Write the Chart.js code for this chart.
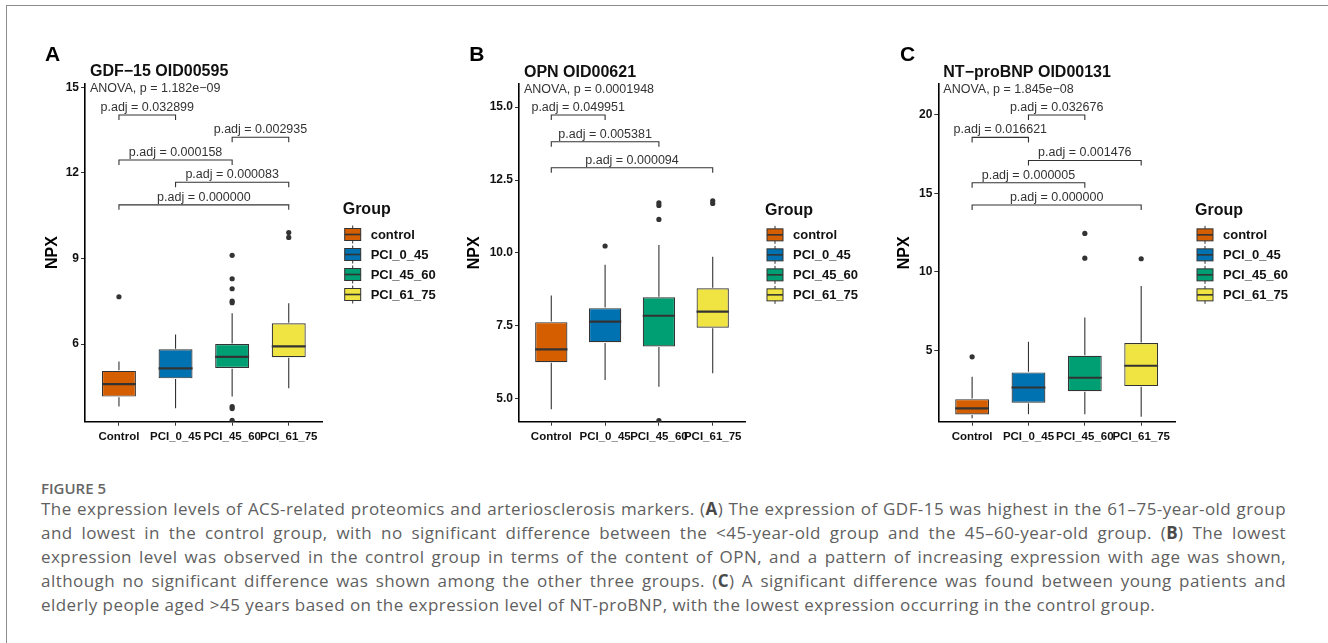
<!DOCTYPE html>
<html>
<head>
<meta charset="utf-8">
<script src="https://cdn.jsdelivr.net/npm/chart.js@4.4.1/dist/chart.umd.min.js"></script>
<style>
  body { margin: 0; background: #fff; width: 1328px; height: 643px; overflow: hidden; position: relative; }
  .frame { position: absolute; left: 6px; top: 5px; width: 1340px; height: 660px; border-left: 1px solid #8c8c8c; border-top: 1px solid #8c8c8c; }
  canvas { position: absolute; }
  #caption { position: absolute; left: 41px; top: 479px; width: 1245px; font-family: 'Open Sans', sans-serif; color: #5f5f5f; }
  #caption .fig { font-size: 15px; font-weight: 600; line-height: 18px; color: #666; }
  #caption .ln { font-size: 17px; line-height: 24px; letter-spacing: 0.45px; white-space: nowrap; text-align: justify; text-align-last: justify; }
  #caption .ln.last { text-align-last: left; }
  #caption b { font-weight: 700; color: #4a4a4a; }
</style>
</head>
<body>
<div class="frame"></div>
<canvas id="chartA" width="410" height="420" style="left:30px; top:30px;"></canvas>
<canvas id="chartB" width="430" height="420" style="left:440px; top:30px;"></canvas>
<canvas id="chartC" width="440" height="420" style="left:880px; top:30px;"></canvas>

<div id="caption">
  <div class="fig">FIGURE 5</div>
  <div class="ln">The expression levels of ACS-related proteomics and arteriosclerosis markers. (<b>A</b>) The expression of GDF-15 was highest in the 61–75-year-old group</div>
  <div class="ln">and lowest in the control group, with no significant difference between the &lt;45-year-old group and the 45–60-year-old group. (<b>B</b>) The lowest</div>
  <div class="ln">expression level was observed in the control group in terms of the content of OPN, and a pattern of increasing expression with age was shown,</div>
  <div class="ln">although no significant difference was shown among the other three groups. (<b>C</b>) A significant difference was found between young patients and</div>
  <div class="ln last">elderly people aged &gt;45 years based on the expression level of NT-proBNP, with the lowest expression occurring in the control group.</div>
</div>

<script>
const groups = ['Control', 'PCI_0_45', 'PCI_45_60', 'PCI_61_75'];
const legendNames = ['control', 'PCI_0_45', 'PCI_45_60', 'PCI_61_75'];

// A: GDF-15
const gdfLow = [3.81, 3.75, 4.16, 4.45];
const gdfQ1 = [4.16, 4.80, 5.16, 5.54];
const gdfMedian = [4.60, 5.15, 5.55, 5.92];
const gdfQ3 = [5.06, 5.82, 6.00, 6.73];
const gdfHigh = [5.39, 6.34, 7.08, 7.43];
const gdfOutliers = [[7.66], [], [9.11, 8.29, 7.94, 7.51, 7.45, 3.81, 3.74, 3.33], [9.91, 9.74]];
const gdfTicks = [6, 9, 12, 15];
const gdfRange = [3.28, 15.14];
const gdfPairs = [[1, 2], [3, 4], [1, 3], [2, 4], [1, 4]];
const gdfPairY = [14.03, 13.25, 12.45, 11.67, 10.88];
const gdfPadj = ['0.032899', '0.002935', '0.000158', '0.000083', '0.000000'];

// B: OPN
const opnLow = [4.65, 5.65, 5.42, 5.88];
const opnQ1 = [6.26, 6.94, 6.80, 7.44];
const opnMedian = [6.70, 7.65, 7.85, 7.99];
const opnQ3 = [7.63, 8.11, 8.48, 8.79];
const opnHigh = [8.54, 9.60, 10.27, 9.87];
const opnOutliers = [[], [10.24], [11.72, 11.63, 11.15, 4.26], [11.79, 11.70]];
const opnTicks = [5, 7.5, 10, 12.5, 15];
const opnRange = [4.22, 15.79];
const opnPairs = [[1, 2], [1, 3], [1, 4]];
const opnPairY = [14.73, 13.81, 12.92];
const opnPadj = ['0.049951', '0.005381', '0.000094'];

// C: NT-proBNP
const bnpLow = [0.72, 0.98, 0.98, 0.81];
const bnpQ1 = [0.96, 1.70, 2.44, 2.76];
const bnpMedian = [1.34, 2.67, 3.29, 4.05];
const bnpQ3 = [1.93, 3.63, 4.68, 5.49];
const bnpHigh = [3.35, 5.57, 7.12, 9.11];
const bnpOutliers = [[4.62], [], [12.45, 10.88], [10.84]];
const bnpTicks = [5, 10, 15, 20];
const bnpRange = [0.5, 21.93];
const bnpPairs = [[2, 3], [1, 2], [2, 4], [1, 3], [1, 4]];
const bnpPairY = [19.96, 18.54, 17.08, 15.66, 14.25];
const bnpPadj = ['0.032676', '0.016621', '0.001476', '0.000005', '0.000000'];

const colors = ['#D55E00', '#0072B2', '#009E73', '#F0E442'];
const ink = '#333333';
const family = "'Liberation Sans', Arial, sans-serif";

const panels = [
    {
        id: 'chartA', letter: 'A', title: 'GDF−15 OID00595', anova: 'ANOVA, p = 1.182e−09',
        low: gdfLow, q1: gdfQ1, median: gdfMedian, q3: gdfQ3, high: gdfHigh, outliers: gdfOutliers,
        ticks: gdfTicks, range: gdfRange, pairs: gdfPairs, pairY: gdfPairY, padj: gdfPadj, decimals: 0,
        box: { yWidth: 55, top: 53.3, right: 117.3, xHeight: 28.3, titlePad: 13.4, letterX: 15 },
    },
    {
        id: 'chartB', letter: 'B', title: 'OPN OID00621', anova: 'ANOVA, p = 0.0001948',
        low: opnLow, q1: opnQ1, median: opnMedian, q3: opnQ3, high: opnHigh, outliers: opnOutliers,
        ticks: opnTicks, range: opnRange, pairs: opnPairs, pairY: opnPairY, padj: opnPadj, decimals: 1,
        box: { yWidth: 79, top: 54, right: 125, xHeight: 28.3, titlePad: 25.4, letterX: 29.3 },
    },
    {
        id: 'chartC', letter: 'C', title: 'NT−proBNP OID00131', anova: 'ANOVA, p = 1.845e−08',
        low: bnpLow, q1: bnpQ1, median: bnpMedian, q3: bnpQ3, high: bnpHigh, outliers: bnpOutliers,
        ticks: bnpTicks, range: bnpRange, pairs: bnpPairs, pairY: bnpPairY, padj: bnpPadj, decimals: 0,
        box: { yWidth: 58.3, top: 54, right: 145, xHeight: 28.3, titlePad: 15.4, letterX: 20 },
    },
];

function strokeLine(ctx, x1, y1, x2, y2) {
    ctx.beginPath();
    ctx.moveTo(x1, y1);
    ctx.lineTo(x2, y2);
    ctx.stroke();
}

// whiskers, medians, brackets, titles and the legend
const boxExtras = {
    id: 'boxExtras',
    afterDatasetsDraw(chart, args, p) {
        const { ctx } = chart;
        const xs = chart.scales.x;
        const ys = chart.scales.y;
        const bars = chart.getDatasetMeta(0).data;
        ctx.save();
        ctx.strokeStyle = ink;
        p.low.forEach((lo, i) => {
            const cx = xs.getPixelForValue(i + 1);
            const w = bars[i].width;
            ctx.lineWidth = 1.1;
            strokeLine(ctx, cx, ys.getPixelForValue(lo), cx, ys.getPixelForValue(p.q1[i]) + 0.6);
            strokeLine(ctx, cx, ys.getPixelForValue(p.q3[i]) - 0.6, cx, ys.getPixelForValue(p.high[i]));
            ctx.lineWidth = 2.2;
            const ym = ys.getPixelForValue(p.median[i]);
            strokeLine(ctx, cx - w / 2, ym, cx + w / 2, ym);
        });
        ctx.restore();
    },
    afterDraw(chart, args, p) {
        const { ctx, chartArea } = chart;
        const xs = chart.scales.x;
        const ys = chart.scales.y;
        ctx.save();

        // comparison brackets
        ctx.strokeStyle = ink;
        ctx.fillStyle = ink;
        ctx.lineWidth = 1.1;
        ctx.font = `12.5px ${family}`;
        ctx.textAlign = 'center';
        ctx.textBaseline = 'alphabetic';
        p.pairs.forEach(([a, b], k) => {
            const x1 = xs.getPixelForValue(a);
            const x2 = xs.getPixelForValue(b);
            const yl = ys.getPixelForValue(p.pairY[k]);
            ctx.beginPath();
            ctx.moveTo(x1, yl + 5);
            ctx.lineTo(x1, yl);
            ctx.lineTo(x2, yl);
            ctx.lineTo(x2, yl + 5);
            ctx.stroke();
            ctx.fillText(`p.adj = ${p.padj[k]}`, (x1 + x2) / 2, yl - 4);
        });

        // titles
        ctx.textAlign = 'left';
        ctx.textBaseline = 'middle';
        ctx.fillText(p.anova, chartArea.left + 5, chartArea.top + 5.5);
        ctx.fillStyle = '#111';
        ctx.font = `bold 16px ${family}`;
        ctx.fillText(p.title, chartArea.left + 5, chartArea.top - 11.5);
        ctx.fillStyle = '#000';
        ctx.font = `bold 21px ${family}`;
        ctx.fillText(p.letter, p.letterX, 25);

        // legend
        const L = chartArea.right;
        const cy = (chartArea.top + chartArea.bottom) / 2;
        ctx.fillStyle = '#111';
        ctx.font = `bold 16px ${family}`;
        ctx.fillText('Group', L + 20, cy - 42.5);
        ctx.font = `bold 13px ${family}`;
        legendNames.forEach((name, i) => {
            const yc = cy - 18 + i * 20;
            const kx = L + 22;
            ctx.fillStyle = colors[i];
            ctx.fillRect(kx, yc - 6, 16, 12);
            ctx.strokeStyle = ink;
            ctx.lineWidth = 1;
            ctx.strokeRect(kx, yc - 6, 16, 12);
            strokeLine(ctx, kx + 8, yc - 9, kx + 8, yc - 6);
            strokeLine(ctx, kx + 8, yc + 6, kx + 8, yc + 9);
            ctx.lineWidth = 1.6;
            strokeLine(ctx, kx, yc, kx + 16, yc);
            ctx.fillStyle = '#111';
            ctx.fillText(name, L + 48, yc + 0.5);
        });
        ctx.restore();
    },
};

function drawPanel(panel) {
    const b = panel.box;
    const outlierPoints = [];
    panel.outliers.forEach((vals, i) => vals.forEach((v) => outlierPoints.push({ x: i + 1, y: v })));

    new Chart(document.getElementById(panel.id), {
        type: 'bar',
        data: {
            datasets: [
                {
                    data: groups.map((g, i) => ({ x: i + 1, y: [panel.q1[i], panel.q3[i]] })),
                    backgroundColor: colors,
                    borderColor: ink,
                    borderWidth: 1.2,
                    borderSkipped: false,
                    barPercentage: 0.6,
                    categoryPercentage: 1,
                },
                {
                    type: 'scatter',
                    data: outlierPoints,
                    pointRadius: 2.6,
                    pointBackgroundColor: ink,
                    pointBorderWidth: 0,
                },
            ],
        },
        options: {
            responsive: false,
            animation: false,
            events: [],
            layout: { padding: { left: 0, top: b.top, right: b.right, bottom: 0 } },
            plugins: {
                legend: { display: false },
                tooltip: { enabled: false },
                boxExtras: { ...panel, letterX: b.letterX },
            },
            scales: {
                x: {
                    type: 'linear',
                    offset: false,
                    min: 0.4,
                    max: 4.6,
                    afterBuildTicks: (s) => { s.ticks = groups.map((g, i) => ({ value: i + 1 })); },
                    afterFit: (s) => { s.height = b.xHeight; },
                    ticks: {
                        callback: (v) => groups[v - 1],
                        autoSkip: false,
                        maxRotation: 0,
                        minRotation: 0,
                        padding: 4,
                        color: '#111',
                        font: { family, size: 11.5, weight: 'bold' },
                    },
                    grid: { offset: false, drawOnChartArea: false, tickLength: 4, color: ink, lineWidth: 1 },
                    border: { color: '#000', width: 1.6 },
                },
                y: {
                    min: panel.range[0],
                    max: panel.range[1],
                    afterBuildTicks: (s) => { s.ticks = panel.ticks.map((v) => ({ value: v })); },
                    afterFit: (s) => { s.width = b.yWidth; },
                    ticks: {
                        callback: (v) => v.toFixed(panel.decimals),
                        padding: 2,
                        color: '#111',
                        font: { family, size: 12, weight: 'bold' },
                    },
                    grid: { drawOnChartArea: false, tickLength: 4, color: ink, lineWidth: 1 },
                    border: { color: '#000', width: 1.6 },
                    title: {
                        display: true,
                        text: 'NPX',
                        color: '#000',
                        font: { family, size: 16, weight: 'bold' },
                        padding: { top: b.titlePad, bottom: 0 },
                    },
                },
            },
        },
        plugins: [boxExtras],
    });
}

panels.forEach(drawPanel);
</script>
</body>
</html>
